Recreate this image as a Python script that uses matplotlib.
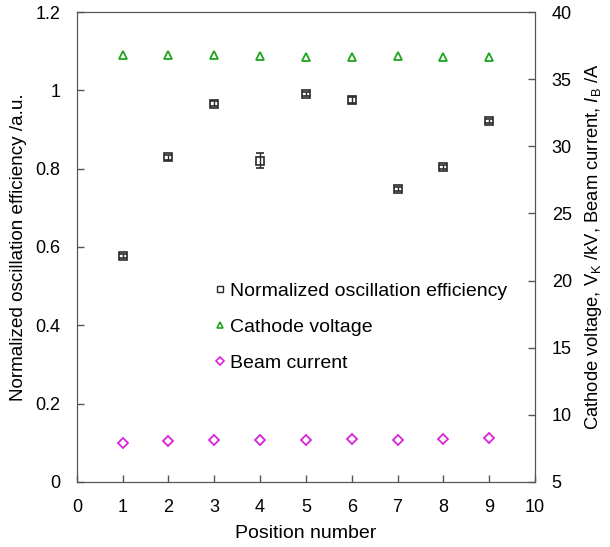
import numpy as np
import matplotlib.pyplot as plt
from matplotlib.lines import Line2D

plt.rcParams['font.family'] = ['Liberation Sans', 'DejaVu Sans']
plt.rcParams['mathtext.fontset'] = 'custom'
plt.rcParams['mathtext.rm'] = 'Liberation Sans'
plt.rcParams['mathtext.it'] = 'Liberation Sans:italic'

position = [1, 2, 3, 4, 5, 6, 7, 8, 9]
efficiency = [0.577, 0.829, 0.966, 0.820, 0.991, 0.975, 0.747, 0.805, 0.922]
efficiency_err = [0.006, 0.006, 0.006, 0.019, 0.006, 0.007, 0.005, 0.005, 0.006]
cathode_voltage = [36.78, 36.78, 36.78, 36.72, 36.64, 36.62, 36.76, 36.68, 36.64]
beam_current = [7.93, 8.05, 8.1, 8.1, 8.1, 8.2, 8.1, 8.18, 8.28]

c_eff = '#2a2a2a'
c_volt = '#1ea51e'
c_curr = '#dd22dd'

fig = plt.figure(figsize=(6.1, 5.47), dpi=100)
ax = fig.add_axes([0.126, 0.119, 0.751, 0.859])
ax2 = ax.twinx()

ax.errorbar(position, efficiency, yerr=efficiency_err, fmt='s', ms=5.5,
            mfc='none', mec=c_eff, mew=1.2, ecolor=c_eff,
            elinewidth=1, capsize=3)
ax2.plot(position, cathode_voltage, '^', ms=6, mfc='none', mec=c_volt, mew=1.3)
ax2.plot(position, beam_current, 'D', ms=4.6, mfc='none', mec=c_curr, mew=1.3)

ax.set_xlim(0, 10)
ax.set_ylim(0, 1.2)
ax2.set_ylim(5, 40)
ax.set_xticks(range(0, 11))
ax.set_yticks([0, 0.2, 0.4, 0.6, 0.8, 1.0, 1.2])
ax.set_yticklabels(['0', '0.2', '0.4', '0.6', '0.8', '1', '1.2'])
ax2.set_yticks(range(5, 41, 5))

for a in (ax, ax2):
    a.tick_params(direction='in', length=5, width=1, color='#555555',
                  labelsize=13, pad=12)
    for s in a.spines.values():
        s.set_color('#555555')
ax.tick_params(axis='x', pad=12)

ax.set_xlabel('Position number', fontsize=14, labelpad=7)
ax.set_ylabel('Normalized oscillation efficiency /a.u.', fontsize=13.6, labelpad=6)
ax2.set_ylabel(r'Cathode voltage, $\mathrm{V}_\mathrm{K}$ /kV, Beam current, $I_\mathrm{B}$ /A',
               fontsize=13.2, labelpad=8)

# legend shows plain markers, no error bars
handles = [
    Line2D([], [], ls='none', marker='s', ms=5, mfc='none', mec=c_eff, mew=1),
    Line2D([], [], ls='none', marker='^', ms=4.5, mfc='none', mec=c_volt, mew=1.2),
    Line2D([], [], ls='none', marker='D', ms=4, mfc='none', mec=c_curr, mew=1.2),
]
labels = ['Normalized oscillation efficiency', 'Cathode voltage', 'Beam current']
ax2.legend(handles, labels, loc='center left', bbox_to_anchor=(0.301, 0.329),
           frameon=False, fontsize=14, handlelength=0.5, handletextpad=0.3,
           labelspacing=0.95, borderpad=0, borderaxespad=0)

fig.savefig('out.png', dpi=100)
